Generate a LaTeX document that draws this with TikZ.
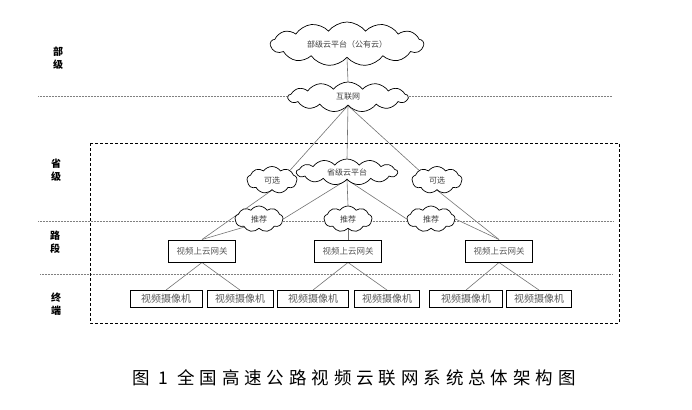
\documentclass[tikz,border=0pt]{standalone}
\usepackage{fontspec}
\usetikzlibrary{shapes.symbols,backgrounds}
\newfontfamily\cjk{Noto Sans CJK SC}

\tikzset{
  cloudnode/.style={cloud, cloud puffs=13, cloud puff arc=105, cloud ignores aspect, draw, line width=0.7pt, fill=white,
    inner sep=0pt, font=\cjk\fontsize{8}{9}\selectfont, text=black!75},
  smallcloud/.style={cloudnode, cloud puffs=9, cloud puff arc=110},
  gwbox/.style={draw, line width=1pt, fill=white, minimum width=67pt, minimum height=22pt,
    inner sep=0pt, font=\cjk\fontsize{8.5}{10}\selectfont, text=black!65},
  cambox/.style={draw, line width=0.9pt, fill=white, minimum height=17pt, inner sep=0pt,
    font=\cjk\fontsize{10}{11}\selectfont, text=black!65},
  levellabel/.style={align=center, font=\cjk\bfseries\fontsize{10}{13}\selectfont},
  sepline/.style={densely dotted, gray, line width=0.5pt},
  linkline/.style={black!55, line width=0.6pt},
}

\begin{document}
\begin{tikzpicture}[x=1pt, y=-1pt]
	\useasboundingbox (0,0) rectangle (692,409);
	% separators and province frame
	\draw[sepline] (38,96) -- (612,96);
	\draw[sepline] (38,221) -- (613,221);
	\draw[sepline] (40,274) -- (612,274);
	\draw[line width=0.9pt, dash pattern=on 3pt off 2pt] (90,143) rectangle (619,323);
	% level labels
	\node[levellabel] (lvlMin) at (58,58) {部\\级};
	\node[levellabel] (lvlProv) at (56,170) {省\\级};
	\node[levellabel] (lvlRoad) at (55,242) {路\\段};
	\node[levellabel] (lvlTerm) at (56,304) {终\\端};
	% clouds
	\node[cloudnode, minimum width=153pt, minimum height=44pt] (minCloud) at (347,44) {部级云平台（公有云）};
	\node[cloudnode, minimum width=120pt, minimum height=30pt] (inet) at (348,97) {互联网};
	\node[cloudnode, minimum width=101pt, minimum height=26pt] (provCloud) at (347,172) {省级云平台};
	\node[smallcloud, minimum width=50pt, minimum height=27pt] (optL) at (272,180) {可选};
	\node[smallcloud, minimum width=50pt, minimum height=27pt] (optR) at (437,180) {可选};
	\node[smallcloud, minimum width=48pt, minimum height=26pt] (recL) at (259,219) {推荐};
	\node[smallcloud, minimum width=48pt, minimum height=26pt] (recM) at (348,219) {推荐};
	\node[smallcloud, minimum width=48pt, minimum height=26pt] (recR) at (431,219) {推荐};
	% gateways
	\node[gwbox] (gwL) at (202,251) {视频上云网关};
	\node[gwbox] (gwM) at (348,251) {视频上云网关};
	\node[gwbox] (gwR) at (499,251) {视频上云网关};
	% cameras
	\node[cambox, minimum width=72pt] (camA) at (166,299) {视频摄像机};
	\node[cambox, minimum width=66pt] (camB) at (240,299) {视频摄像机};
	\node[cambox, minimum width=71pt] (camC) at (313,299) {视频摄像机};
	\node[cambox, minimum width=65pt] (camD) at (387,299) {视频摄像机};
	\node[cambox, minimum width=73pt] (camE) at (466,299) {视频摄像机};
	\node[cambox, minimum width=65pt] (camF) at (539,299) {视频摄像机};
	% links, behind the clouds
	\begin{scope}[on background layer]
	\draw[linkline] (minCloud.south) -- (inet.north);
	\draw[linkline] (inet.south) -- (optL.north east);
	\draw[linkline] (inet.south) -- (provCloud.north);
	\draw[linkline] (inet.south) -- (optR.north west);
	\draw[linkline] (provCloud.south) -- (recL.east);
	\draw[linkline] (provCloud.south) -- (recM.north);
	\draw[linkline] (provCloud.south) -- (recR.west);
	\draw[linkline] (optL.south) -- (gwL.north);
	\draw[linkline] (recL.south west) -- (gwL.north);
	\draw[linkline] (recM.south) -- (gwM.north);
	\draw[linkline] (recR.east) -- (gwR.north);
	\draw[linkline] (optR.south) -- (gwR.north);
	\draw[linkline] (gwL.south) -- (camA.north);
	\draw[linkline] (gwL.south) -- (camB.north);
	\draw[linkline] (gwM.south) -- (camC.north);
	\draw[linkline] (gwM.south) -- (camD.north);
	\draw[linkline] (gwR.south) -- (camE.north);
	\draw[linkline] (gwR.south) -- (camF.north);
	\end{scope}
	% caption
	\node[font=\cjk\fontsize{17.5}{20}\selectfont\addfontfeatures{LetterSpace=28}] (caption) at (354,378) {图 1 全国高速公路视频云联网系统总体架构图};
\end{tikzpicture}
\end{document}
